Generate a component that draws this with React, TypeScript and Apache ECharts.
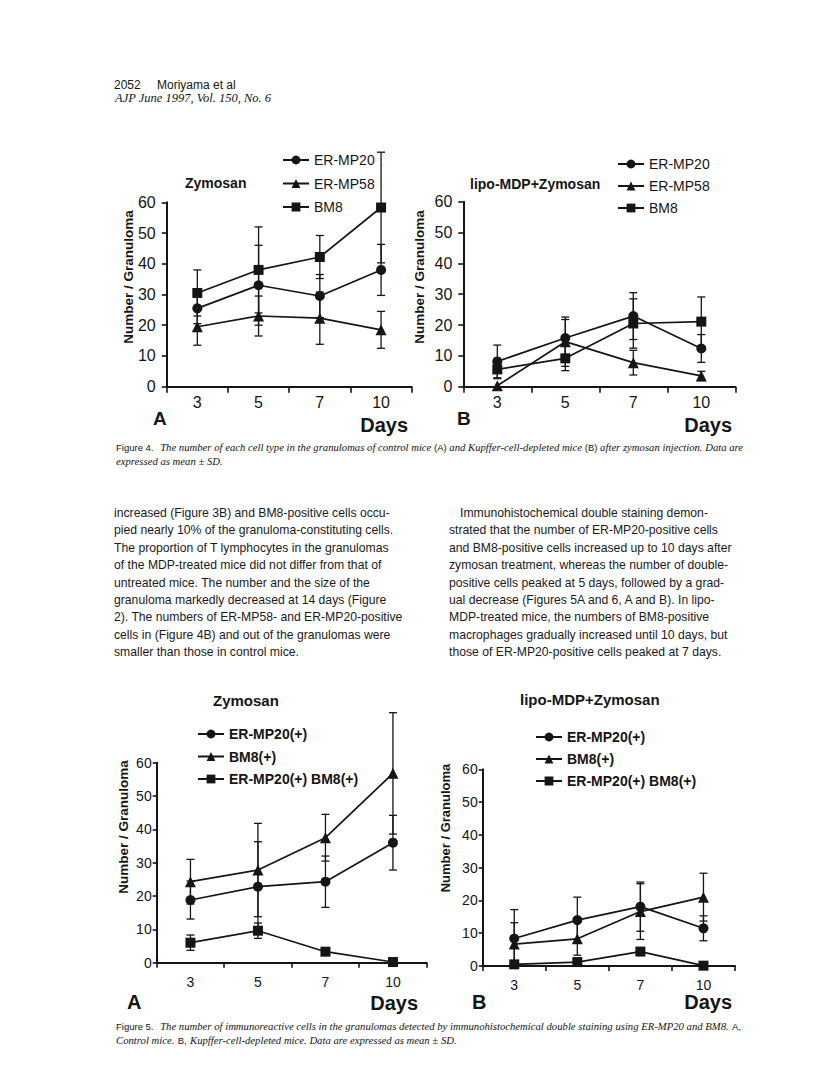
import { useEffect, useRef } from 'react';
import * as echarts from 'echarts';

// ---------- data ----------
const days = ['3', '5', '7', '10'];
const yTicks = [0, 10, 20, 30, 40, 50, 60];

// Figure 4A (control mice)
const f4aNames = ['ER-MP20', 'ER-MP58', 'BM8'];
const f4aErmp20 = [25.5, 33, 29.5, 38];
const f4aErmp20Sd = [5, 13, 7, 8.3];
const f4aErmp58 = [19.5, 23, 22.3, 18.5];
const f4aErmp58Sd = [6, 6.5, 8.5, 6];
const f4aBm8 = [30.5, 38, 42.2, 58.3];
const f4aBm8Sd = [7.5, 14, 7, 18];

// Figure 4B (Kupffer-cell-depleted mice)
const f4bErmp20 = [8.2, 15.8, 22.9, 12.4];
const f4bErmp20Sd = [5.3, 6, 7.6, 4.5];
const f4bErmp58 = [0.3, 14.6, 7.8, 3.5];
const f4bErmp58Sd = [0, 8, 4, 1.5];
const f4bBm8 = [5.6, 9.2, 20.5, 21.1];
const f4bBm8Sd = [3, 4, 8, 8];

// Figure 5A
const f5Names = ['ER-MP20(+)', 'BM8(+)', 'ER-MP20(+) BM8(+)'];
const f5aErmp20 = [18.8, 22.8, 24.3, 36];
const f5aErmp20Sd = [5.7, 13.5, 7.7, 8.2];
const f5aBm8 = [24.3, 27.8, 37.5, 56.8];
const f5aBm8Sd = [6.7, 14, 7, 18.2];
const f5aDouble = [6, 9.6, 3.3, 0.2];
const f5aDoubleSd = [2.3, 2.3, 0.5, 0];

// Figure 5B
const f5bErmp20 = [8.4, 14, 18.1, 11.5];
const f5bErmp20Sd = [8.8, 7, 7.5, 3.8];
const f5bBm8 = [6.7, 8.3, 16.6, 21];
const f5bBm8Sd = [6.5, 5, 8.5, 7.3];
const f5bDouble = [0.5, 1.2, 4.4, 0.1];
const f5bDoubleSd = [0, 0.5, 0.5, 0];

const leftColumn = [
  'increased (Figure 3B) and BM8-positive cells occu-',
  'pied nearly 10% of the granuloma-constituting cells.',
  'The proportion of T lymphocytes in the granulomas',
  'of the MDP-treated mice did not differ from that of',
  'untreated mice. The number and the size of the',
  'granuloma markedly decreased at 14 days (Figure',
  '2). The numbers of ER-MP58- and ER-MP20-positive',
  'cells in (Figure 4B) and out of the granulomas were',
  'smaller than those in control mice.',
];
const rightColumn = [
  'Immunohistochemical double staining demon-',
  'strated that the number of ER-MP20-positive cells',
  'and BM8-positive cells increased up to 10 days after',
  'zymosan treatment, whereas the number of double-',
  'positive cells peaked at 5 days, followed by a grad-',
  'ual decrease (Figures 5A and 6, A and B). In lipo-',
  'MDP-treated mice, the numbers of BM8-positive',
  'macrophages gradually increased until 10 days, but',
  'those of ER-MP20-positive cells peaked at 7 days.',
];

const INK = '#151515';
const SANS = '"Liberation Sans", Arial, Helvetica, sans-serif';
const SERIF = '"Liberation Serif", "DejaVu Serif", serif';

type GridDef = { left: number; top: number; width: number; height: number; big: boolean };
const grids: GridDef[] = [
  { left: 166.7, top: 202.3, width: 245, height: 184.4, big: true },
  { left: 463.3, top: 201.7, width: 272, height: 185, big: true },
  { left: 156.7, top: 762.7, width: 270, height: 200, big: false },
  { left: 482.7, top: 769.3, width: 252.3, height: 196.7, big: false },
];

function lineSeries(name: string, g: number, data: number[], symbol: string) {
  return {
    type: 'line',
    name,
    xAxisIndex: g,
    yAxisIndex: g,
    data,
    symbol,
    symbolSize: symbol === 'triangle' ? 11 : 10,
    showSymbol: true,
    lineStyle: { color: INK, width: 1.7 },
    itemStyle: { color: INK },
    z: 4,
  };
}

function errSeries(g: number, mean: number[], sd: number[]) {
  const data: number[][] = [];
  mean.forEach((m, i) => {
    if (sd[i] > 0) data.push([i, m - sd[i], m + sd[i]]);
  });
  return {
    type: 'custom',
    name: 'sd',
    xAxisIndex: g,
    yAxisIndex: g,
    silent: true,
    clip: false,
    encode: { x: 0, y: [1, 2] },
    data,
    z: 3,
    renderItem: (_p: any, api: any) => {
      const i = api.value(0);
      const lo = api.coord([i, api.value(1)]);
      const hi = api.coord([i, api.value(2)]);
      const w = 4;
      const st = { stroke: INK, lineWidth: 1.3 };
      return {
        type: 'group',
        children: [
          { type: 'line', shape: { x1: hi[0], y1: hi[1], x2: lo[0], y2: lo[1] }, style: st },
          { type: 'line', shape: { x1: hi[0] - w, y1: hi[1], x2: hi[0] + w, y2: hi[1] }, style: st },
          { type: 'line', shape: { x1: lo[0] - w, y1: lo[1], x2: lo[0] + w, y2: lo[1] }, style: st },
        ],
      };
    },
  };
}

function txt(text: string, x: number, y: number, size: number, opts: any = {}) {
  return {
    type: 'text',
    x,
    y,
    rotation: opts.rotation || 0,
    silent: true,
    style: {
      text,
      fill: opts.fill || INK,
      fontSize: size,
      fontFamily: opts.family || SANS,
      fontWeight: opts.weight || 'normal',
      fontStyle: opts.style || 'normal',
      align: opts.align || 'left',
      verticalAlign: 'middle',
    },
  };
}

export default function App() {
  const ref = useRef<HTMLDivElement>(null);
  useEffect(() => {
    if (!ref.current) return;
    const chart = echarts.init(ref.current, undefined, { renderer: 'svg' });

    const xAxes = grids.map((g, i) => ({
      type: 'category',
      gridIndex: i,
      data: days,
      boundaryGap: true,
      axisLine: { show: true, lineStyle: { color: INK, width: 2 } },
      axisTick: { show: true, length: g.big ? 6 : 5, lineStyle: { color: INK, width: 1.6 } },
      axisLabel: {
        color: INK,
        fontSize: g.big ? 16 : 14,
        fontFamily: SANS,
        margin: g.big ? 8 : 12,
      },
      splitLine: { show: false },
    }));
    const yAxes = grids.map((g, i) => ({
      type: 'value',
      gridIndex: i,
      min: yTicks[0],
      max: yTicks[yTicks.length - 1],
      interval: 10,
      axisLine: { show: true, lineStyle: { color: INK, width: 2 } },
      axisTick: { show: true, length: g.big ? 5 : 4, lineStyle: { color: INK, width: 1.6 } },
      axisLabel: {
        color: INK,
        fontSize: g.big ? 16 : 14,
        fontFamily: SANS,
        margin: g.big ? 11 : 5,
      },
      splitLine: { show: false },
    }));

    const legendBase = (left: number, top: number, gap: number, data: string[], bold: boolean) => ({
      data,
      left,
      top,
      orient: 'vertical',
      padding: 0,
      itemWidth: 26,
      itemHeight: 11,
      itemGap: gap,
      selectedMode: false,
      textStyle: {
        color: INK,
        fontSize: 14,
        lineHeight: 14,
        fontFamily: SANS,
        fontWeight: bold ? 'bold' : 'normal',
      },
    });

    const capRich = {
      s: { fontFamily: SANS, fontSize: 9.5, fill: INK, color: INK },
      i: { fontFamily: SERIF, fontStyle: 'italic', fontSize: 10.7, fill: INK, color: INK },
    };
    const cap = (text: string, x: number, y: number) => ({
      type: 'text',
      x,
      y,
      silent: true,
      style: { text, rich: capRich, fill: INK, verticalAlign: 'middle', align: 'left' },
    });

    const elements: any[] = [
      txt('2052', 114, 85, 12),
      txt('Moriyama et al', 157, 85, 12),
      txt('AJP June 1997, Vol. 150, No. 6', 115, 98, 12.5, { family: SERIF, style: 'italic' }),
      // Figure 4A
      txt('Zymosan', 185, 183, 14, { weight: 'bold' }),
      txt('Number / Granuloma', 128, 277, 13.5, { weight: 'bold', align: 'center', rotation: Math.PI / 2 }),
      txt('A', 153, 418, 19, { weight: 'bold' }),
      txt('Days', 408, 425, 20, { weight: 'bold', align: 'right' }),
      // Figure 4B
      txt('lipo-MDP+Zymosan', 470, 184, 14, { weight: 'bold' }),
      txt('Number / Granuloma', 419, 277, 13.5, { weight: 'bold', align: 'center', rotation: Math.PI / 2 }),
      txt('B', 457, 418, 19, { weight: 'bold' }),
      txt('Days', 732, 425, 20, { weight: 'bold', align: 'right' }),
      cap(
        '{s|Figure 4.}  {i|The number of each cell type in the granulomas of control mice }{s|(A)}{i| and Kupffer-cell-depleted mice }{s|(B)}{i| after zymosan injection. Data are}',
        116,
        447
      ),
      cap('{i|expressed as mean ± SD.}', 116, 461),
      // Figure 5A
      txt('Zymosan', 213, 700, 15, { weight: 'bold' }),
      txt('Number / Granuloma', 123, 827, 13.5, { weight: 'bold', align: 'center', rotation: Math.PI / 2 }),
      txt('A', 127, 1002, 20, { weight: 'bold' }),
      txt('Days', 418, 1003, 20, { weight: 'bold', align: 'right' }),
      // Figure 5B
      txt('lipo-MDP+Zymosan', 520, 699, 15, { weight: 'bold' }),
      txt('Number / Granuloma', 445, 828, 13, { weight: 'bold', align: 'center', rotation: Math.PI / 2 }),
      txt('B', 472, 1002, 20, { weight: 'bold' }),
      txt('Days', 732, 1002, 20, { weight: 'bold', align: 'right' }),
      cap(
        '{s|Figure 5.}  {i|The number of immunoreactive cells in the granulomas detected by immunohistochemical double staining using ER-MP20 and BM8.} {s|A,}',
        116,
        1026
      ),
      cap('{i|Control mice.} {s|B,} {i|Kupffer-cell-depleted mice. Data are expressed as mean ± SD.}', 116, 1040),
    ];
    leftColumn.forEach((l, i) => elements.push(txt(l, 114, 513 + i * 17.4, 12.2, { fill: '#1a1a1a' })));
    rightColumn.forEach((l, i) => elements.push(txt(l, i === 0 ? 460 : 449, 513 + i * 17.4, 12.2, { fill: '#1a1a1a' })));

    chart.setOption({
      animation: false,
      backgroundColor: '#ffffff',
      grid: grids.map((g) => ({ left: g.left, top: g.top, width: g.width, height: g.height, containLabel: false })),
      xAxis: xAxes,
      yAxis: yAxes,
      legend: [
        legendBase(282, 153, 9.5, f4aNames, false),
        legendBase(617, 157, 8, f4aNames, false),
        legendBase(197, 727, 8.5, f5Names, true),
        legendBase(535, 730, 8, f5Names, true),
      ],
      series: [
        errSeries(0, f4aErmp20, f4aErmp20Sd),
        errSeries(0, f4aErmp58, f4aErmp58Sd),
        errSeries(0, f4aBm8, f4aBm8Sd),
        lineSeries('ER-MP20', 0, f4aErmp20, 'circle'),
        lineSeries('ER-MP58', 0, f4aErmp58, 'triangle'),
        lineSeries('BM8', 0, f4aBm8, 'rect'),
        errSeries(1, f4bErmp20, f4bErmp20Sd),
        errSeries(1, f4bErmp58, f4bErmp58Sd),
        errSeries(1, f4bBm8, f4bBm8Sd),
        lineSeries('ER-MP20', 1, f4bErmp20, 'circle'),
        lineSeries('ER-MP58', 1, f4bErmp58, 'triangle'),
        lineSeries('BM8', 1, f4bBm8, 'rect'),
        errSeries(2, f5aErmp20, f5aErmp20Sd),
        errSeries(2, f5aBm8, f5aBm8Sd),
        errSeries(2, f5aDouble, f5aDoubleSd),
        lineSeries('ER-MP20(+)', 2, f5aErmp20, 'circle'),
        lineSeries('BM8(+)', 2, f5aBm8, 'triangle'),
        lineSeries('ER-MP20(+) BM8(+)', 2, f5aDouble, 'rect'),
        errSeries(3, f5bErmp20, f5bErmp20Sd),
        errSeries(3, f5bBm8, f5bBm8Sd),
        errSeries(3, f5bDouble, f5bDoubleSd),
        lineSeries('ER-MP20(+)', 3, f5bErmp20, 'circle'),
        lineSeries('BM8(+)', 3, f5bBm8, 'triangle'),
        lineSeries('ER-MP20(+) BM8(+)', 3, f5bDouble, 'rect'),
      ],
      graphic: { elements },
    });
    return () => chart.dispose();
  }, []);

  return (
    <div
      ref={ref}
      style={{ position: 'absolute', left: 0, top: 0, width: 816, height: 1091, background: '#ffffff' }}
    />
  );
}
